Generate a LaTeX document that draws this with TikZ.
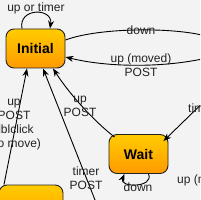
\documentclass[tikz,border=0pt]{standalone}
\usepackage{fontspec}
\setmainfont{Liberation Sans}
\usetikzlibrary{arrows.meta}
\definecolor{bgc}{HTML}{F3F3F3}
\definecolor{stTop}{HTML}{FFCC00}
\definecolor{stBot}{HTML}{FF9A00}
\definecolor{ink}{HTML}{222222}
\begin{document}
\begin{tikzpicture}[x=1pt,y=-1pt,
  state/.style={draw=ink, line width=0.9pt, rounded corners=8pt,
    top color=stTop, bottom color=stBot, minimum width=59pt, minimum height=39pt,
    inner sep=0pt, text=black, font=\bfseries\fontsize{14}{16}\selectfont},
  lbl/.style={font=\fontsize{12}{14}\selectfont, align=center, text=ink, inner sep=0pt},
  edge/.style={draw=black, line width=0.9pt, -{Stealth[length=8pt,width=6pt]}}]
\useasboundingbox (0,0) rectangle (200,200);
\fill[bgc] (0,0) rectangle (200,200);
\clip (0,0) rectangle (200,200);

\node[state] (init) at (35.5,48.5) {Initial};
\node[state] (wait) at (138.5,154) {Wait};
\node[state, minimum width=64pt, minimum height=43pt] (clk) at (31,206.5) {Click};

\coordinate (rdown) at (215,39);
\coordinate (rup) at (215,56);
\coordinate (bm) at (97,205);
\coordinate (rt) at (215,91);

% self loop on Initial
\draw[edge] ([xshift=-13.5pt]init.north) .. controls +(-4,-21) and +(3,-21) .. ([xshift=14.5pt]init.north);
\node[lbl] (l1) at (36,8) {up or timer};

% down
\draw[edge] ([yshift=8.5pt]init.east) .. controls (100,27) and (180,27) .. (rdown);
\node[lbl] (l2) at (141,30.5) {down};

% up (moved)
\draw[edge] (rup) .. controls (170,68) and (110,68) .. ([yshift=-8.5pt]init.east);
\node[lbl] (l3) at (141,65) {up (moved)\\POST};

% Click -> Initial
\draw[edge] ([xshift=-27pt]clk.north) -- ([xshift=-8.5pt]init.south);
\node[lbl] (l4) at (14,124.5) {up\\POST\\dblclick\\(no move)};

% bottom -> Initial
\draw[edge] (bm) -- ([xshift=7.5pt]init.south);
\node[lbl] (l5) at (86,178.5) {timer\\POST};

% Wait -> Initial
\draw[edge] ([xshift=6pt,yshift=-3pt]wait.north west) .. controls (95,122) and (70,95) .. ([xshift=17.5pt]init.south);
\node[lbl] (l6) at (80,106.5) {up\\POST};

% Wait self loop
\draw[edge] ([xshift=10pt]wait.south) .. controls +(6,14) and +(-6,14) .. ([xshift=-14pt]wait.south);
\node[lbl] (l7) at (138,187) {down};

% right -> Wait
\draw[edge] (rt) -- ([xshift=-5pt,yshift=-7pt]wait.north east);
\node[lbl, anchor=west] (l8) at (188,108) {timer};

\node[lbl, anchor=west] (l9) at (177,180) {up (moved)};
\end{tikzpicture}
\end{document}
